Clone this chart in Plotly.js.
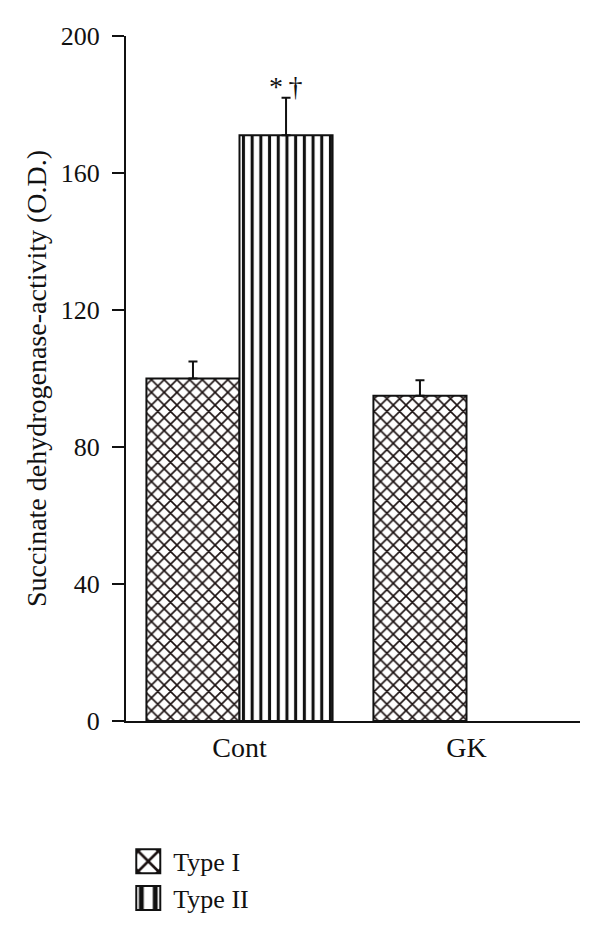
<!DOCTYPE html>
<html>
<head>
<meta charset="utf-8">
<script src="https://cdn.plot.ly/plotly-3.0.1.min.js"></script>
<style>
  html, body { margin: 0; padding: 0; background: #fff; }
  #chart { width: 600px; height: 932px; }
</style>
</head>
<body>
<div id="chart"></div>
<script>
const groups = ['Cont', 'GK'];
const typeI = [100, 95];
const typeIErr = [5, 4.5];
const typeII = [171, null];
const typeIIErr = [11, 0];
const yTicks = [0, 40, 80, 120, 160, 200];

const serif = '"Liberation Serif", "DejaVu Serif", serif';
const ink = '#111111';

const traceI = {
  x: groups,
  y: typeI,
  name: 'Type I',
  type: 'bar',
  marker: {
    color: '#ffffff',
    line: { color: ink, width: 2 },
    pattern: { shape: 'x', fgcolor: '#1a1010', bgcolor: '#ffffff', size: 9, solidity: 0.33 }
  },
  error_y: {
    type: 'data', symmetric: false, array: typeIErr, arrayminus: [0, 0],
    color: ink, thickness: 2, width: 4.5
  }
};

const traceII = {
  x: groups,
  y: typeII,
  name: 'Type II',
  type: 'bar',
  marker: {
    color: '#ffffff',
    line: { color: ink, width: 2 },
    pattern: { shape: '|', fgcolor: ink, bgcolor: '#ffffff', size: 8.7, solidity: 0.35 }
  },
  error_y: {
    type: 'data', symmetric: false, array: typeIIErr, arrayminus: [0, 0],
    color: ink, thickness: 2, width: 4.5
  }
};

const layout = {
  width: 600,
  height: 932,
  margin: { l: 126, r: 20, t: 36, b: 211 },
  paper_bgcolor: '#ffffff',
  plot_bgcolor: '#ffffff',
  font: { family: serif, size: 27, color: ink },
  barmode: 'group',
  bargap: 0.18,
  bargroupgap: 0,
  showlegend: true,
  legend: {
    x: -0.006, y: 0.101, xref: 'paper', yref: 'container', xanchor: 'left', yanchor: 'top',
    font: { family: serif, size: 26, color: ink },
    tracegroupgap: 0, itemwidth: 40
  },
  xaxis: {
    type: 'category',
    range: [-0.5, 1.5],
    showline: true, linecolor: ink, linewidth: 2,
    ticks: '', showgrid: false, zeroline: false,
    ticklabelstandoff: 0,
    tickfont: { family: serif, size: 28, color: ink }
  },
  yaxis: {
    range: [0, 200],
    tickvals: yTicks,
    showline: true, linecolor: ink, linewidth: 2,
    ticks: 'outside', ticklen: 12, tickwidth: 2, tickcolor: ink,
    ticklabelstandoff: 7,
    showgrid: false, zeroline: false,
    tickfont: { family: serif, size: 26, color: ink },
    title: { text: 'Succinate dehydrogenase-activity (O.D.)', font: { family: serif, size: 28, color: ink }, standoff: 6 }
  },
  annotations: [{
    x: 0.205, y: 182, xref: 'x', yref: 'y',
    text: '*\u2009†', showarrow: false, yanchor: 'bottom', yshift: -6,
    font: { family: serif, size: 28, color: ink }
  }]
};

Plotly.newPlot('chart', [traceI, traceII], layout, { displayModeBar: false, staticPlot: true }).then(function (gd) {
  // enlarge the legend swatches to match the reference
  gd.querySelectorAll('.legend .legendpoints path').forEach(function (p) {
    const t = p.getAttribute('transform') || '';
    p.setAttribute('transform', t + ' scale(2)');
    p.style.strokeWidth = '1px';
  });
});
</script>
</body>
</html>
